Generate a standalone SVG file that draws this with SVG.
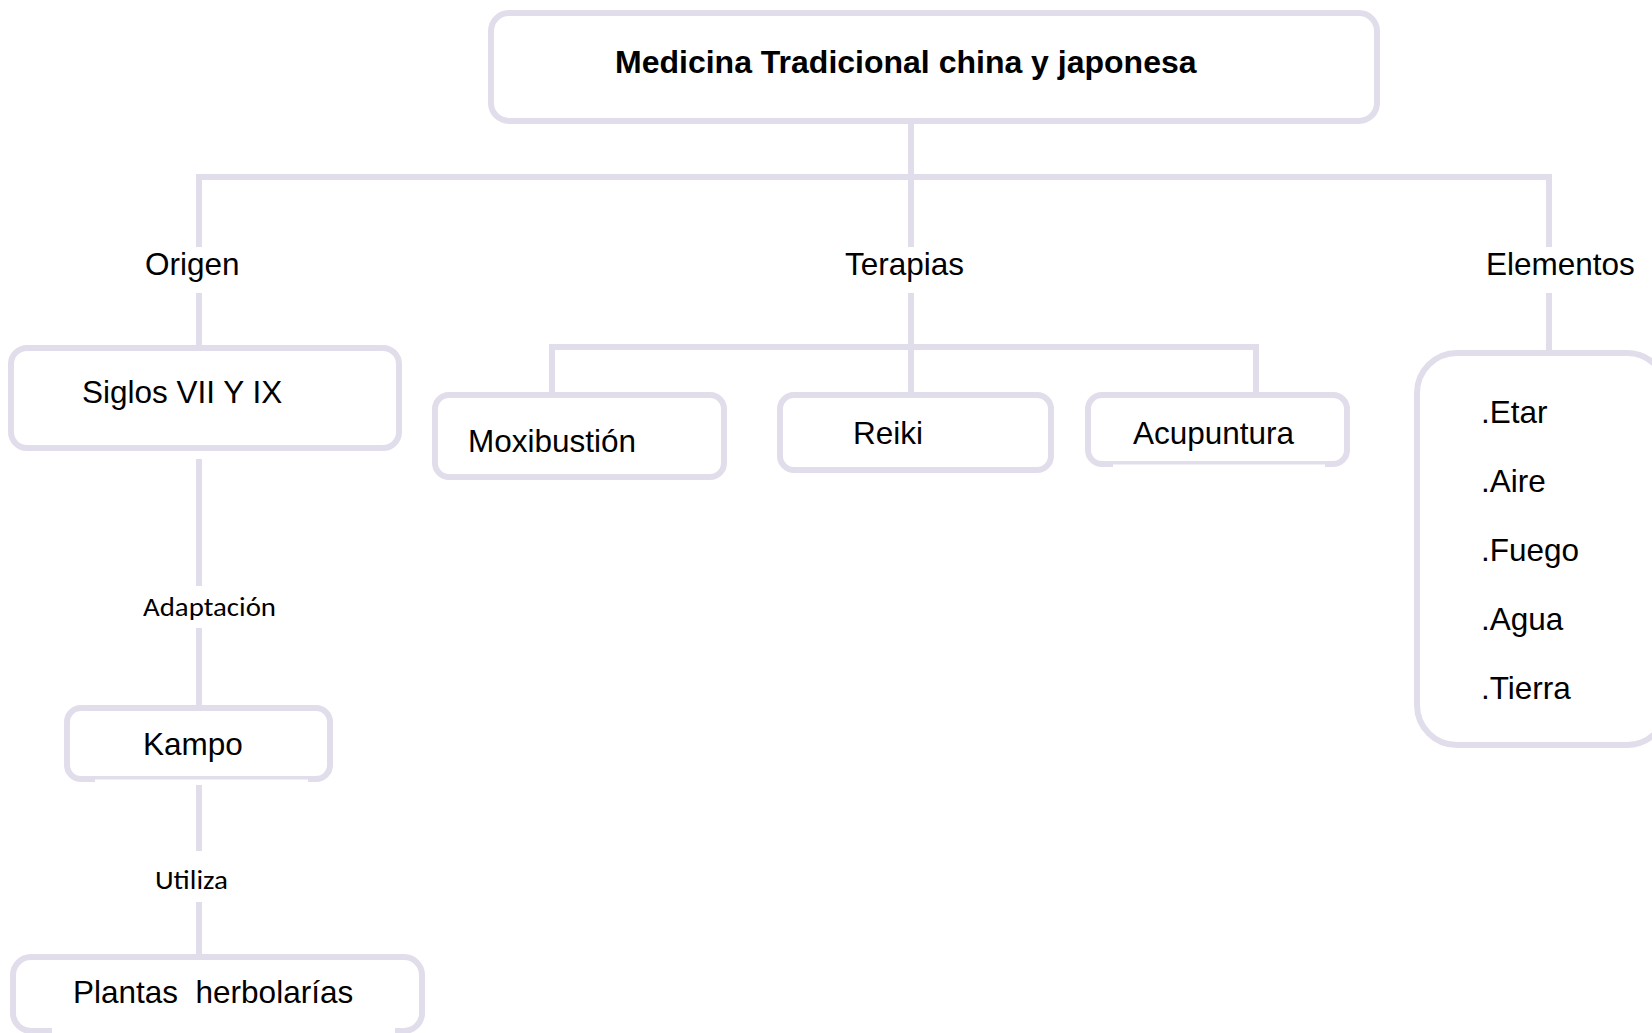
<svg xmlns="http://www.w3.org/2000/svg" width="1652" height="1033" viewBox="0 0 1652 1033">
<style>
.box{fill:#fff;stroke:#E2DDEB;stroke-width:6}
.ln{fill:none;stroke:#E2DDEB;stroke-width:6;stroke-linejoin:miter;stroke-linecap:butt}
.t{font-family:"Liberation Sans",Arial,sans-serif;font-size:31.5px;fill:#000}
.tb{font-family:"Liberation Sans",Arial,sans-serif;font-size:32px;font-weight:bold;fill:#000}
.lbl{font-family:Carlito,Calibri,Lato,"Open Sans",sans-serif;font-size:26px;fill:#000}
.cover{fill:#fff}
</style>
<rect width="1652" height="1033" fill="#fff"/>
<g id="connectors">
<path class="ln" d="M911 124 V247"/>
<path class="ln" d="M199 247 V177 H1549 V247"/>
<path class="ln" d="M199 293 V345"/>
<path class="ln" d="M911 293 V392"/>
<path class="ln" d="M1549 293 V350"/>
<path class="ln" d="M552 392 V347 H1256 V392"/>
<path class="ln" d="M199 459 V586"/>
<path class="ln" d="M199 628 V705"/>
<path class="ln" d="M199 785 V851"/>
<path class="ln" d="M199 902 V954"/>
<text class="t" x="145" y="275">Origen</text>
<text class="t" x="845" y="275">Terapias</text>
<text class="t" x="1486" y="275">Elementos</text>
<text class="lbl" x="143" y="616" textLength="133" lengthAdjust="spacingAndGlyphs">Adaptación</text>
<text class="lbl" x="155" y="889" textLength="73" lengthAdjust="spacingAndGlyphs">Utiliza</text>
</g>
<g id="title">
<rect class="box" x="491" y="13" width="886" height="108" rx="18"/>
<text class="tb" x="615" y="73">Medicina Tradicional china y japonesa</text>
</g>
<g id="siglos">
<rect class="box" x="11" y="348" width="388" height="100" rx="16"/>
<text class="t" x="82" y="403">Siglos VII Y IX</text>
</g>
<g id="moxibustion">
<rect class="box" x="435" y="395" width="289" height="82" rx="14"/>
<text class="t" x="468" y="452">Moxibustión</text>
</g>
<g id="reiki">
<rect class="box" x="780" y="395" width="271" height="75" rx="14"/>
<text class="t" x="853" y="444">Reiki</text>
</g>
<g id="acupuntura">
<rect class="box" x="1088" y="395" width="259" height="69" rx="14"/>
<rect class="cover" x="1113" y="464.5" width="212" height="4"/>
<text class="t" x="1133" y="444">Acupuntura</text>
</g>
<g id="elementos">
<rect class="box" x="1417" y="353" width="250" height="392" rx="40"/>
<text class="t" x="1481" y="423">.Etar</text>
<text class="t" x="1481" y="492">.Aire</text>
<text class="t" x="1481" y="561">.Fuego</text>
<text class="t" x="1481" y="630">.Agua</text>
<text class="t" x="1481" y="699">.Tierra</text>
</g>
<g id="kampo">
<rect class="box" x="67" y="708" width="263" height="71" rx="14"/>
<rect class="cover" x="95" y="779.5" width="213" height="4"/>
<text class="t" x="143" y="755">Kampo</text>
</g>
<g id="plantas">
<rect class="box" x="13" y="957" width="409" height="74" rx="18"/>
<rect class="cover" x="52" y="1026" width="343" height="8"/>
<text class="t" x="73" y="1003" xml:space="preserve">Plantas  herbolarías</text>
</g>
</svg>
